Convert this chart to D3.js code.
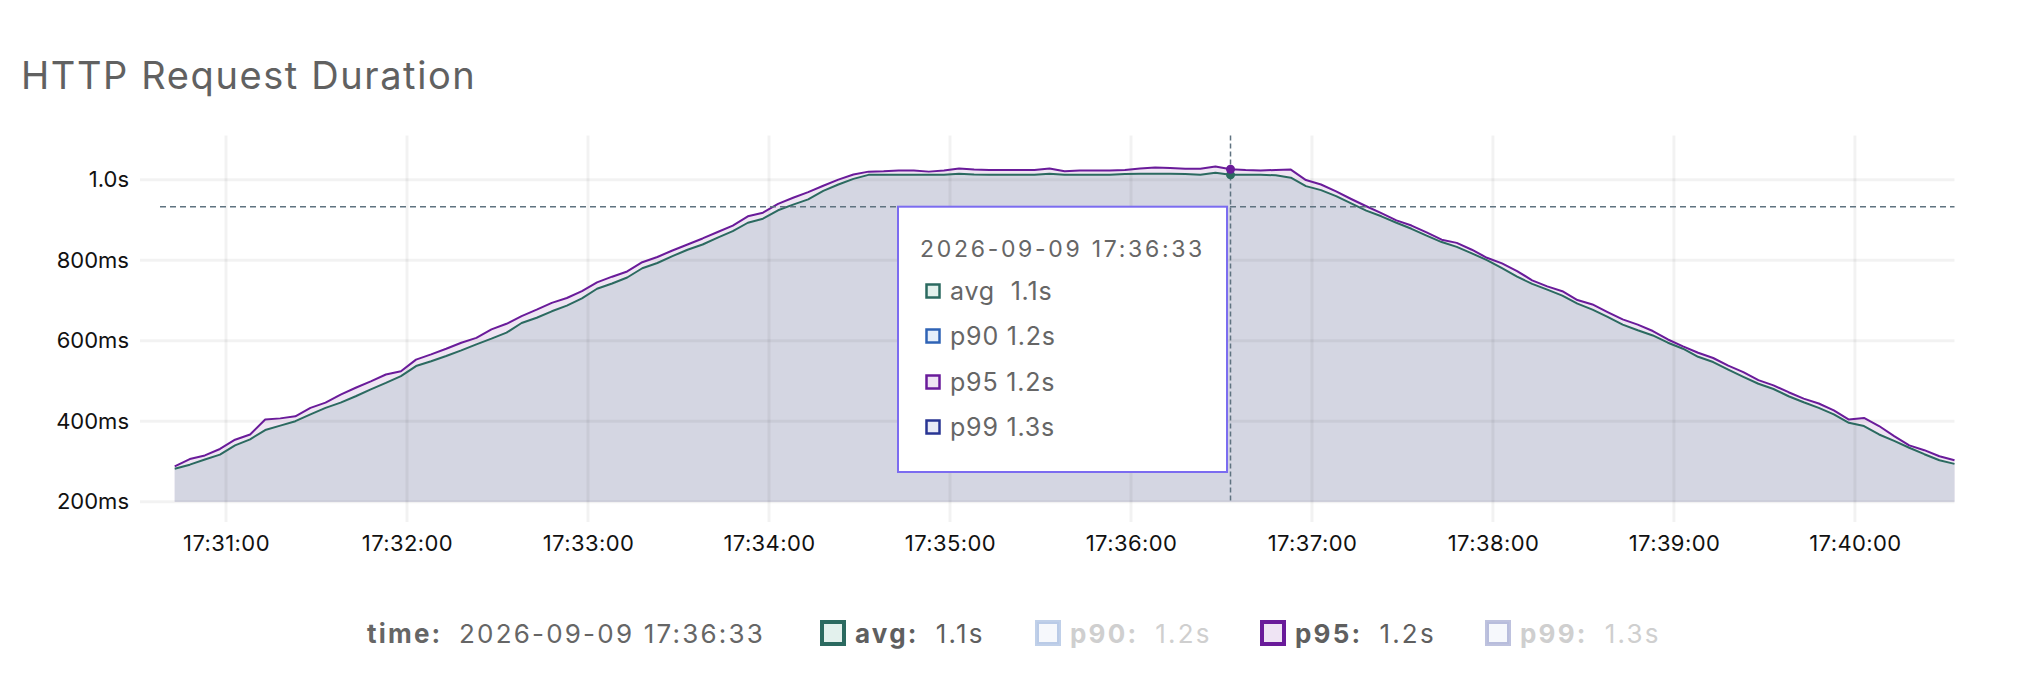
<!DOCTYPE html>
<html><head><meta charset="utf-8">
<script src="https://cdn.jsdelivr.net/npm/d3@7"></script>
<style>
body{margin:0;background:#fff;}
svg{display:block;font-family:Inter,"Noto Sans",sans-serif;}
</style>
</head><body>
<svg id="chart" width="2024" height="692"></svg>
<script>
const chartTitle = "HTTP Request Duration";
const startTime = "2026-09-09T17:30:43";
const stepSeconds = 5;
const avgValues = [
282,292,305,317,340,355,378,389,400,417,
433,446,462,479,495,512,537,549,562,576,
591,605,620,644,657,673,687,705,729,742,
757,780,793,810,826,839,856,872,893,903,
924,938,951,972,988,1002,1012,1012,1012,1012,
1012,1012,1015,1013,1012,1012,1012,1012,1015,1012,
1012,1012,1012,1014,1015,1015,1015,1014,1012,1017,
1012,1012,1012,1011,1005,984,974,959,941,923,
909,893,878,861,845,833,817,800,780,759,
741,727,712,692,677,659,640,626,613,595,
580,560,547,528,510,493,480,462,447,433,
417,396,388,367,351,334,318,303,294];
const p95Values = [
288,306,315,331,354,367,404,407,412,433,
446,466,483,499,516,524,553,566,580,595,
607,628,642,661,677,694,706,723,745,759,
772,795,808,824,839,854,870,886,909,918,
940,955,969,985,1000,1013,1020,1021,1023,1023,
1020,1023,1028,1025,1024,1024,1024,1024,1028,1021,
1023,1023,1023,1024,1028,1030,1029,1027,1027,1033,
1026,1024,1023,1024,1025,999,988,971,952,934,
917,899,886,869,851,843,826,806,792,773,
750,735,723,701,690,671,653,640,624,603,
586,570,557,538,522,502,489,472,456,444,
427,404,408,388,363,340,328,313,303];
const yTickValues = [200,400,600,800,1000];
const yTickLabels = ["200ms","400ms","600ms","800ms","1.0s"];
const xTickLabels = ["17:31:00","17:32:00","17:33:00","17:34:00","17:35:00","17:36:00","17:37:00","17:38:00","17:39:00","17:40:00"];
const cursorIndex = 70;
const cursorLabel = "2026-09-09 17:36:33";
const seriesNames = ["avg","p90","p95","p99"];
const seriesValueLabels = ["1.1s","1.2s","1.2s","1.3s"];
const seriesShown = [true,false,true,false];
const seriesStroke = ["#2b6a60","#2f63b5","#6a1b9a","#283593"];
const seriesTint = ["#e3f1ed","#e6effa","#efe4f4","#e8eaf6"];

const parse = d3.timeParse("%Y-%m-%dT%H:%M:%S");
const t0 = parse(startTime);
const times = avgValues.map((_, i) => d3.timeSecond.offset(t0, i * stepSeconds));
const rows = times.map((t, i) => ({t, avg: avgValues[i], p95: p95Values[i]}));

const svg = d3.select("#chart");
const plotLeft = 140, plotRight = 1954.5, plotTop = 135.4, plotBottom = 501.7;

const x = d3.scaleTime().domain([times[0], times[times.length-1]]).range([174.7, 1954.5]);
const y = d3.scaleLinear().domain([200, 1110]).range([plotBottom, plotTop]);

// title
svg.append("text").attr("x", 21).attr("y", 89).attr("fill", "#616161")
  .attr("font-size", 38).attr("letter-spacing", 1.6).text(chartTitle);

// areas
const areaP95 = d3.area().x(d => x(d.t)).y0(plotBottom).y1(d => y(d.p95));
const areaAvg = d3.area().x(d => x(d.t)).y0(plotBottom).y1(d => y(d.avg));
svg.append("path").datum(rows).attr("d", areaP95).attr("fill", "#efe5f3");
svg.append("path").datum(rows).attr("d", areaAvg).attr("fill", "#d4d6e2");

// grid
const xTicks = x.ticks(d3.timeMinute.every(1));
const grid = svg.append("g").attr("stroke", "rgba(0,0,0,0.05)").attr("stroke-width", 3);
grid.selectAll("line.v").data(xTicks).join("line")
  .attr("x1", d => x(d)).attr("x2", d => x(d)).attr("y1", plotTop).attr("y2", 522);
grid.selectAll("line.h").data(yTickValues).join("line")
  .attr("x1", plotLeft).attr("x2", plotRight).attr("y1", d => y(d)).attr("y2", d => y(d));

// axes
const xAxis = d3.axisBottom(x).tickValues(xTicks).tickSize(0).tickPadding(34)
  .tickFormat((d, i) => xTickLabels[i]);
const gx = svg.append("g").attr("transform", `translate(0,${plotBottom})`).call(xAxis);
gx.select(".domain").remove();
gx.selectAll("text").attr("font-size", 22).attr("letter-spacing", 0.4).attr("fill", "#111").attr("font-family", "Inter");

const yAxis = d3.axisLeft(y).tickValues(yTickValues).tickSize(0).tickPadding(11)
  .tickFormat((d, i) => yTickLabels[i]);
const gy = svg.append("g").attr("transform", `translate(${plotLeft},0)`).call(yAxis);
gy.select(".domain").remove();
gy.selectAll("text").attr("font-size", 22).attr("fill", "#111").attr("font-family", "Inter");

// lines
const lineAvg = d3.line().x(d => x(d.t)).y(d => y(d.avg));
const lineP95 = d3.line().x(d => x(d.t)).y(d => y(d.p95));
svg.append("path").datum(rows).attr("d", lineAvg).attr("fill", "none")
  .attr("stroke", seriesStroke[0]).attr("stroke-width", 2).attr("stroke-linejoin", "round");
svg.append("path").datum(rows).attr("d", lineP95).attr("fill", "none")
  .attr("stroke", seriesStroke[2]).attr("stroke-width", 2).attr("stroke-linejoin", "round");

// cursor
const cx = x(times[cursorIndex]);
const cy = 206.7;
svg.append("line").attr("x1", 160).attr("x2", plotRight).attr("y1", cy).attr("y2", cy)
  .attr("stroke", "#5f7380").attr("stroke-width", 1.5).attr("stroke-dasharray", "6,4");
svg.append("line").attr("x1", cx).attr("x2", cx).attr("y1", plotTop).attr("y2", plotBottom)
  .attr("stroke", "#5f7380").attr("stroke-width", 1.5).attr("stroke-dasharray", "5,3");
svg.append("circle").attr("cx", cx).attr("cy", y(rows[cursorIndex].avg)).attr("r", 4.5).attr("fill", seriesStroke[0]);
svg.append("circle").attr("cx", cx).attr("cy", y(rows[cursorIndex].p95)).attr("r", 4.5).attr("fill", seriesStroke[2]);

// tooltip
const tip = svg.append("g");
tip.append("rect").attr("x", 898).attr("y", cy).attr("width", cx - 3.5 - 898).attr("height", 472 - cy)
  .attr("fill", "#fff").attr("stroke", "#7b6cf0").attr("stroke-width", 2);
tip.append("text").attr("x", 920).attr("y", 256.5).attr("font-size", 23).attr("letter-spacing", 2.7)
  .attr("fill", "#666").text(cursorLabel);
const tipRowsY = [291, 336, 382, 427];
seriesNames.forEach((n, i) => {
  tip.append("rect").attr("x", 926.5).attr("y", tipRowsY[i] - 6.5).attr("width", 13).attr("height", 13)
    .attr("fill", seriesTint[i]).attr("stroke", seriesStroke[i]).attr("stroke-width", 2.5);
  tip.append("text").attr("x", 950).attr("y", tipRowsY[i] + 8.5).attr("font-size", 25)
    .attr("letter-spacing", 0.8).attr("fill", "#666").style("white-space", "pre")
    .text(n + (n === "avg" ? "  " : " ") + seriesValueLabels[i]);
});

// legend
const lg = svg.append("g").attr("font-size", 26).attr("letter-spacing", 2.2);
const ly = 643;
lg.append("text").attr("x", 367).attr("y", ly).attr("font-weight", 700).attr("fill", "#666").text("time:");
lg.append("text").attr("x", 459).attr("y", ly).attr("fill", "#666").text(cursorLabel);
const legendX = [820, 1035, 1260, 1485];
seriesNames.forEach((n, i) => {
  const on = seriesShown[i];
  const bx = legendX[i];
  lg.append("rect").attr("x", bx + 2).attr("y", 622).attr("width", 22).attr("height", 22)
    .attr("fill", on ? seriesTint[i] : "#f6f8fc")
    .attr("stroke", seriesStroke[i]).attr("stroke-opacity", on ? 1 : 0.3).attr("stroke-width", 4);
  const lab = lg.append("text").attr("x", bx + 35).attr("y", ly).attr("font-weight", 700)
    .attr("fill", on ? "#5f5f5f" : "#cfcfcf").text(n + ":");
  const lw = lab.node().getComputedTextLength();
  lg.append("text").attr("x", bx + 35 + lw + 17).attr("y", ly)
    .attr("fill", on ? "#5f5f5f" : "#cfcfcf").text(seriesValueLabels[i]);
});
</script>
</body></html>
